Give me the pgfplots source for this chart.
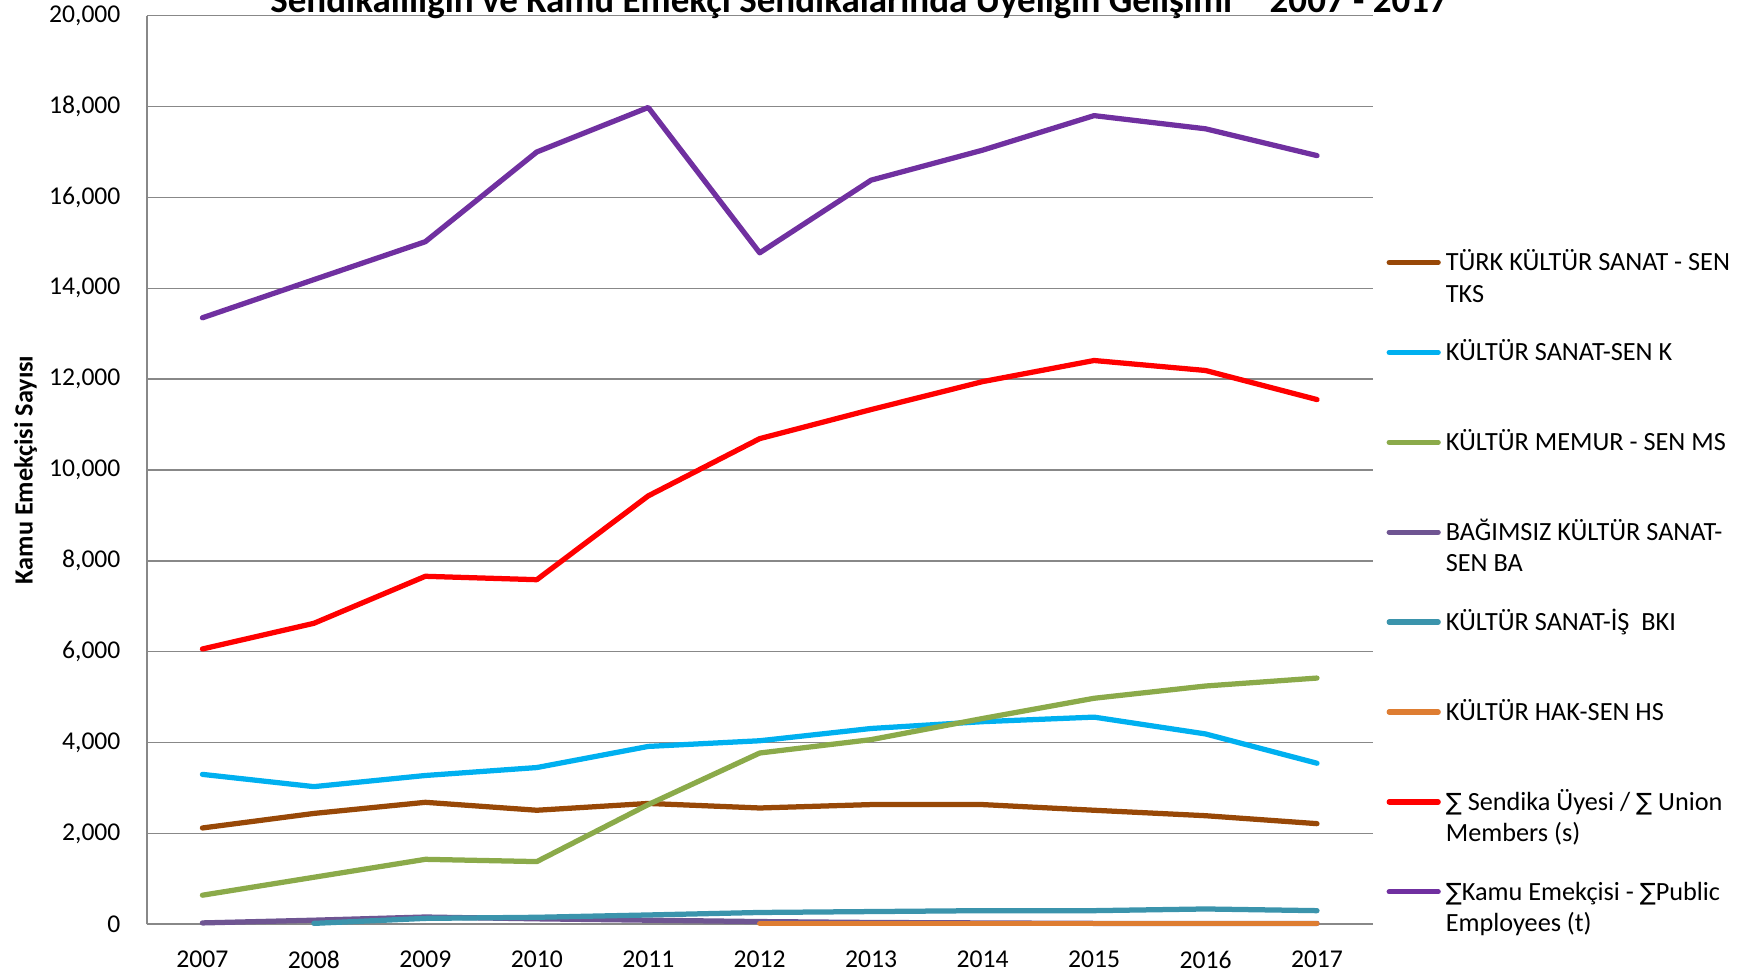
\documentclass[border=0pt]{standalone}
\usepackage{fontspec}
\setmainfont{Carlito}
\newfontfamily\dejavu{DejaVu Sans}
\usepackage{pgfplots}
\usetikzlibrary{calc}
\pgfplotsset{compat=1.18}
\definecolor{cTKS}{HTML}{984807}
\definecolor{cK}{HTML}{00B0F0}
\definecolor{cMS}{HTML}{8BAA4A}
\definecolor{cBA}{HTML}{6F5592}
\definecolor{cBKI}{HTML}{3B94AC}
\definecolor{cHS}{HTML}{DE7D32}
\definecolor{cS}{HTML}{FF0000}
\definecolor{cT}{HTML}{7030A0}
\definecolor{gridc}{HTML}{888888}
\newcommand{\LE}[1]{\raisebox{0pt}[8pt]{\begin{tabular}[t]{@{}l@{}}#1\end{tabular}}}
\newcommand{\SUM}{{\dejavu\fontsize{9.5}{12.5}\selectfont ∑}}
\begin{document}
\begin{tikzpicture}
\begin{axis}[name=ax, at={(0,0)}, anchor=south west,
  scale only axis, width=490.4pt, height=363.44pt,
  xmin=-0.5, xmax=10.5, ymin=0, ymax=20000,
  xtick={0,1,2,3,4,5,6,7,8,9,10},
  xticklabels={2007,2008,2009,2010,2011,2012,2013,2014,2015,2016,2017},
  ytick={0,2000,...,20000},
  scaled y ticks=false,
  /pgf/number format/.cd, 1000 sep={,}, assume math mode=true, /pgfplots/.cd,
  ymajorgrids, grid style={draw=gridc, line width=0.6pt},
  axis lines*=left,
  axis line style={draw=gridc, line width=0.9pt},
  major tick length=0pt,
  tick style={draw=none},
  ticklabel style={font=\fontsize{10.25}{12}\selectfont},
  yticklabel style={anchor=east, inner sep=0pt, xshift=-10.3pt},
  xticklabel style={anchor=north, inner sep=0pt, yshift=-10.56pt},
  ylabel={Kamu Emekçisi Sayısı},
  every axis y label/.style={at={(axis description cs:-0.0987,0.5)}, rotate=90, anchor=center, font=\fontsize{10.5}{12}\selectfont\bfseries},
  clip=false,
  every axis plot/.append style={line width=2.1pt, line cap=round, line join=round},
  legend image code/.code={\draw[#1, line width=2.1pt, line cap=round] (1pt,3.4pt) -- (20.6pt,3.4pt);},
  legend style={at={(axis description cs:1.0109,0.7471)}, anchor=north west, draw=none, fill=none,
    inner sep=0pt, row sep={35.96pt,between origins}, font=\fontsize{10.5}{12.5}\selectfont,
    cells={anchor=base west, inner xsep=2pt, inner ysep=0pt}},
]
\addplot[cTKS] coordinates {(0,2120) (1,2440) (2,2685) (3,2510) (4,2660) (5,2560) (6,2635) (7,2635) (8,2510) (9,2390) (10,2215)};
\addlegendentry{\LE{TÜRK KÜLTÜR SANAT - SEN\\TKS}}
\addplot[cK] coordinates {(0,3300) (1,3030) (2,3275) (3,3450) (4,3915) (5,4040) (6,4310) (7,4460) (8,4560) (9,4190) (10,3545)};
\addlegendentry{\LE{KÜLTÜR SANAT-SEN K}}
\addplot[cMS] coordinates {(0,640) (1,1035) (2,1430) (3,1380) (4,2635) (5,3770) (6,4065) (7,4530) (8,4975) (9,5245) (10,5420)};
\addlegendentry{\LE{KÜLTÜR MEMUR - SEN MS}}
\addplot[cBA] coordinates {(0,30) (1,90) (2,160) (3,120) (4,90) (5,60) (6,40) (7,30) (8,20) (9,20) (10,20)};
\addlegendentry{\LE{BAĞIMSIZ KÜLTÜR SANAT-\\SEN BA}}
\addplot[cBKI] coordinates {(1,20) (2,130) (3,154) (4,205) (5,260) (6,280) (7,300) (8,300) (9,337) (10,300)};
\addlegendentry{\LE{KÜLTÜR SANAT-İŞ\ \ BKI}}
\addplot[cHS] coordinates {(5,20) (6,20) (7,20) (8,20) (9,20) (10,20)};
\addlegendentry{\LE{KÜLTÜR HAK-SEN HS}}
\addplot[cS] coordinates {(0,6060) (1,6625) (2,7660) (3,7585) (4,9430) (5,10690) (6,11330) (7,11945) (8,12410) (9,12190) (10,11550)};
\addlegendentry{\LE{\SUM{} Sendika Üyesi / \SUM{} Union\\Members (s)}}
\addplot[cT] coordinates {(0,13350) (1,14190) (2,15025) (3,17000) (4,17980) (5,14780) (6,16380) (7,17040) (8,17800) (9,17510) (10,16920)};
\addlegendentry{\LE{\SUM Kamu Emekçisi - \SUM Public\\Employees (t)}}
\end{axis}
\node[anchor=base, font=\fontsize{14.8}{16}\selectfont\bfseries, inner sep=0pt] at ($(ax.south west)+(284.9pt,364.6pt)$) {Sendikalılığın ve Kamu Emekçi Sendikalarında Üyeliğin Gelişimi\hspace{15pt}2007 - 2017};
\pgfresetboundingbox
\path (ax.south west) ++(-58.68pt,-19.88pt) rectangle ++(701.2pt,389.6pt);
\end{tikzpicture}
\end{document}
